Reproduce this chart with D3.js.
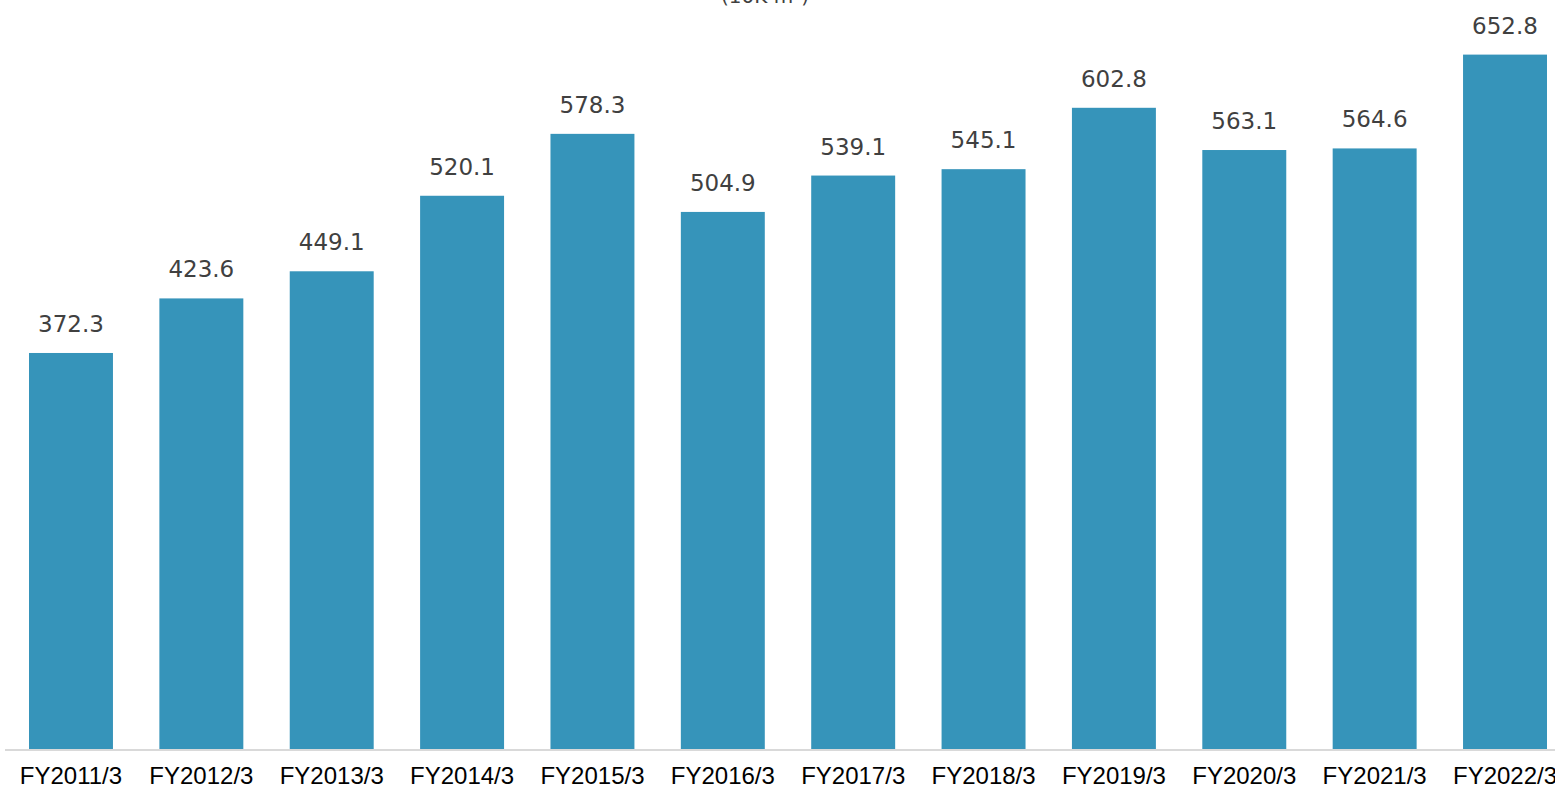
<!DOCTYPE html>
<html lang="en">
<head>
    <meta charset="UTF-8">
    <title>Floor area by fiscal year</title>
    <script src="https://d3js.org/d3.v7.min.js"></script>
    <style>
        body {
            margin: 0;
            overflow: hidden;
            background: #fff;
        }
        .value-label {
            font-family: "DejaVu Sans", Verdana, sans-serif;
            font-size: 23px;
            fill: #404040;
        }
        .unit-label {
            font-family: "DejaVu Sans", Verdana, sans-serif;
            font-size: 20px;
            fill: #404040;
        }
        .x-axis text {
            font-family: "Liberation Sans", Arial, sans-serif;
            font-size: 24px;
            fill: #000;
        }
    </style>
</head>
<body>
    <svg id="chart" width="1555" height="789"></svg>

    <script>
        const years = ["FY2011/3", "FY2012/3", "FY2013/3", "FY2014/3", "FY2015/3", "FY2016/3",
                       "FY2017/3", "FY2018/3", "FY2019/3", "FY2020/3", "FY2021/3", "FY2022/3"];
        const areas = [372.3, 423.6, 449.1, 520.1, 578.3, 504.9, 539.1, 545.1, 602.8, 563.1, 564.6, 652.8];
        const unitText = "(10K m\u00B2)";

        const data = years.map((y, i) => ({ year: y, value: areas[i] }));

        const svg = d3.select("#chart");

        const baseline = 749;

        const x = d3.scaleBand()
            .domain(years)
            .range([5.8, 1570.2])
            .paddingInner(0.356)
            .paddingOuter(0.178);

        const y = d3.scaleLinear()
            .domain([0, 700])
            .range([baseline, 4.4]);

        // bars
        svg.selectAll(".bar")
            .data(data)
            .enter()
            .append("rect")
            .attr("class", "bar")
            .attr("x", d => x(d.year))
            .attr("y", d => y(d.value))
            .attr("width", x.bandwidth())
            .attr("height", d => baseline - y(d.value))
            .attr("fill", "#3694ba");

        // value labels
        svg.selectAll(".value-label")
            .data(data)
            .enter()
            .append("text")
            .attr("class", "value-label")
            .attr("x", d => x(d.year) + x.bandwidth() / 2)
            .attr("y", d => y(d.value) - 21)
            .attr("text-anchor", "middle")
            .text(d => d.value.toFixed(1));

        // x axis
        const xAxis = svg.append("g")
            .attr("class", "x-axis")
            .attr("transform", `translate(0,${baseline + 1})`)
            .call(d3.axisBottom(x).tickSize(0).tickPadding(17));

        xAxis.select(".domain")
            .attr("stroke", "#d9d9d9")
            .attr("stroke-width", 2)
            .attr("d", "M5,0H1570");

        // unit label (cut off at the top in the original too)
        svg.append("text")
            .attr("class", "unit-label")
            .attr("x", 765)
            .attr("y", 3)
            .attr("text-anchor", "middle")
            .text(unitText);
    </script>
</body>
</html>
